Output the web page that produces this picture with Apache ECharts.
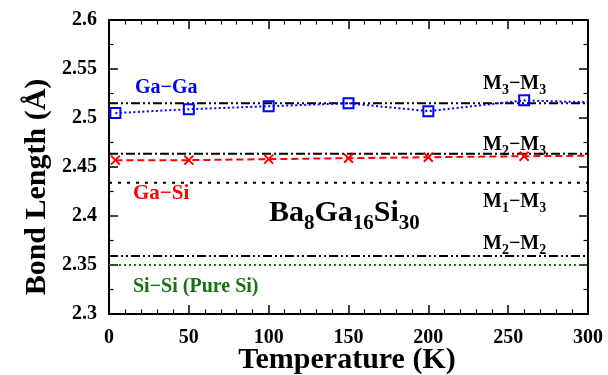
<!DOCTYPE html>
<html>
<head>
<meta charset="utf-8">
<script src="https://cdn.jsdelivr.net/npm/echarts@6/dist/echarts.min.js"></script>
<style>html,body{margin:0;padding:0;background:#fff;}#c{width:608px;height:375px;}</style>
</head>
<body>
<div id="c"></div>
<script>
// ---- data ----
const temps = [4, 50, 100, 150, 200, 260, 300];
const gaGa = [2.505, 2.509, 2.512, 2.515, 2.507, 2.518, 2.516];
const gaSi = [2.457, 2.457, 2.458, 2.459, 2.460, 2.461, 2.4615];
const markerShown = [true, true, true, true, true, true, false];
const refNames = ['M3-M3', 'M2-M3', 'M1-M3', 'M2-M2', 'Si-Si'];
const refValues = [2.515, 2.4636, 2.434, 2.3592, 2.35];
const xTicks = [0, 50, 100, 150, 200, 250, 300];
const yTicks = [2.3, 2.35, 2.4, 2.45, 2.5, 2.55, 2.6];

const FONT = "'Liberation Serif', 'Times New Roman', serif";
const refStyles = [
  {color: '#000', width: 2, type: [9, 3, 2, 3, 2, 3]},
  {color: '#000', width: 2, type: [9, 3, 2, 3]},
  {color: '#000', width: 2, type: [3, 6]},
  {color: '#000', width: 2, type: [9, 3, 2, 3, 2, 3]},
  {color: '#137313', width: 2, type: [2, 3]}
];

const chart = echarts.init(document.getElementById('c'), null, {renderer: 'canvas'});

function axisCommon(pos, showLabel) {
  const isX = (pos === 'bottom' || pos === 'top');
  return {
    type: 'value', position: pos,
    min: isX ? xTicks[0] : yTicks[0],
    max: isX ? xTicks[xTicks.length - 1] : yTicks[yTicks.length - 1],
    interval: isX ? 50 : 0.05,
    axisLine: {show: true, onZero: false, lineStyle: {color: '#000', width: 2}},
    axisTick: {show: true, inside: true, length: 9, lineStyle: {color: '#000', width: 1.5}},
    minorTick: {show: true, splitNumber: isX ? 5 : 2, length: 4.5, lineStyle: {color: '#000', width: 1.2}},
    splitLine: {show: false},
    axisLabel: {
      show: showLabel, color: '#000', fontFamily: FONT, fontWeight: 'bold', fontSize: 20, margin: isX ? 14 : 12,
      formatter: v => String(parseFloat(Number(v).toFixed(3)))
    }
  };
}

const series = [];
refValues.forEach((v, i) => {
  series.push({
    name: refNames[i], type: 'line', xAxisIndex: 0, yAxisIndex: 0,
    data: [[xTicks[0], v], [xTicks[xTicks.length - 1], v]],
    symbol: 'none', silent: true, z: 1,
    lineStyle: refStyles[i]
  });
});
series.push({
  name: 'Ga-Ga', type: 'line', z: 3,
  data: temps.map((t, i) => ({value: [t, gaGa[i]], symbol: markerShown[i] ? 'rect' : 'none'})),
  symbolSize: 10,
  itemStyle: {color: 'rgba(0,0,0,0)', borderColor: '#0000ff', borderWidth: 2},
  lineStyle: {color: '#0000ff', width: 2, type: [2, 2.5]}
});
series.push({
  name: 'Ga-Si', type: 'line', z: 3,
  data: temps.map((t, i) => ({value: [t, gaSi[i]], symbol: markerShown[i] ? 'path://M0,0L10,10M10,0L0,10' : 'none'})),
  symbolSize: 9,
  itemStyle: {color: 'none', borderColor: '#ff0000', borderWidth: 2},
  lineStyle: {color: '#ff0000', width: 2, type: [7, 4]}
});

function lbl(x, top, text, color, size, subSize, subLH) {
  return {
    type: 'text', x: x, y: top, z: 10,
    style: {
      text: text, fill: color, verticalAlign: 'top', align: 'left',
      font: 'bold ' + size + 'px ' + FONT,
      rich: {
        m: {fontFamily: FONT, fontWeight: 'bold', fontSize: size, lineHeight: size, verticalAlign: 'top', fill: color, color: color},
        s: {fontFamily: FONT, fontWeight: 'bold', fontSize: subSize, lineHeight: subLH, verticalAlign: 'bottom', fill: color, color: color}
      }
    }
  };
}

chart.setOption({
  animation: false,
  backgroundColor: '#fff',
  grid: {left: 109, top: 20, width: 479, height: 294, containLabel: false, outerBoundsMode: 'none'},
  xAxis: [axisCommon('bottom', true), axisCommon('top', false)],
  yAxis: [axisCommon('left', true), axisCommon('right', false)],
  series: series,
  graphic: [
    {
      type: 'text', x: 37, y: 187, rotation: Math.PI / 2, z: 10,
      style: {text: 'Bond Length (\u00C5)', fill: '#000', align: 'center', verticalAlign: 'middle',
              font: 'bold 30px ' + FONT}
    },
    {
      type: 'text', x: 347, y: 360, z: 10,
      style: {text: 'Temperature (K)', fill: '#000', align: 'center', verticalAlign: 'middle',
              font: 'bold 30px ' + FONT}
    },
    lbl(135, 78, '{m|Ga\u2212Ga}', '#0000ff', 20, 14, 23),
    lbl(483, 74, '{m|M}{s|3}{m|\u2212M}{s|3}', '#000', 20, 14, 23),
    lbl(483, 135, '{m|M}{s|2}{m|\u2212M}{s|3}', '#000', 20, 14, 23),
    lbl(133, 183, '{m|Ga\u2212Si}', '#ff0000', 21, 14, 23),
    lbl(483, 192, '{m|M}{s|1}{m|\u2212M}{s|3}', '#000', 20, 14, 23),
    lbl(483, 234, '{m|M}{s|2}{m|\u2212M}{s|2}', '#000', 20, 14, 23),
    lbl(133, 277, '{m|Si\u2212Si (Pure Si)}', '#137313', 20, 14, 23),
    lbl(269, 198, '{m|Ba}{s|8}{m|Ga}{s|16}{m|Si}{s|30}', '#000', 30, 21, 36)
  ]
});
</script>
</body>
</html>
